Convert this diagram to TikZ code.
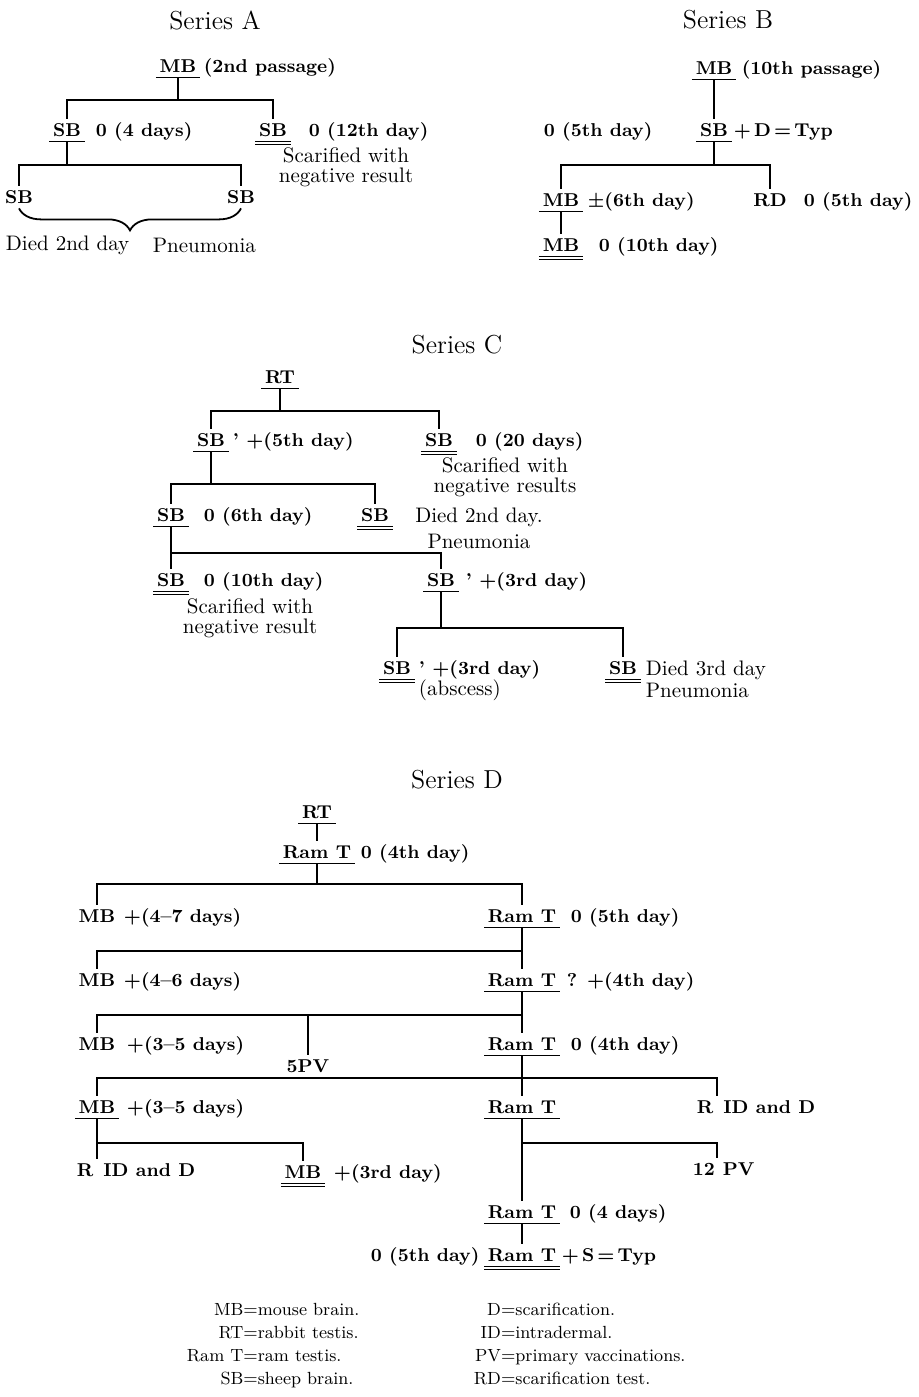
\documentclass[tikz,border=0pt]{standalone}
\usetikzlibrary{decorations.pathreplacing}
\tikzset{
  lbl/.style={font=\fontsize{9.3}{11}\selectfont\bfseries\boldmath, inner xsep=1.5pt, inner ysep=2pt, text height=6.5pt, text depth=0pt},
  txt/.style={lbl, anchor=west},
  note/.style={font=\fontsize{10.5}{10}\selectfont, inner sep=1.5pt, align=center},
  ul/.style={append after command={(\tikzlastnode.south west) edge[line width=0.7pt] (\tikzlastnode.south east)}},
  dul/.style={append after command={(\tikzlastnode.south west) edge[line width=0.7pt] (\tikzlastnode.south east)
      ([yshift=-1.6pt]\tikzlastnode.south west) edge[line width=0.7pt] ([yshift=-1.6pt]\tikzlastnode.south east)}},
  series/.style={font=\fontsize{13}{15}\selectfont},
  legend/.style={font=\fontsize{8.8}{11.5}\selectfont, inner sep=0pt, anchor=west}
}
\begin{document}
\begin{tikzpicture}[x=0.5pt,y=-0.5pt,line width=0.9pt]
\useasboundingbox (0,0) rectangle (918,1397);
\node[series] (serA) at (215,20) {Series A};
\node[lbl, ul] (mbA) at (178,66) {MB};
\node[txt] (mbAc) at (200,66) {(2nd passage)};
\coordinate (jA1) at (178,100);
\node[lbl, ul] (sbA1) at (67,130) {SB};
\node[txt] (sbA1c) at (92,130) {0 (4 days)};
\node[lbl, dul] (sbA2) at (273,130) {SB};
\node[txt] (sbA2c) at (305,130) {0 (12th day)};
\node[note] (sbA2n) at (346,167) {Scarified with\\negative result};
\coordinate (jA2) at (67,165);
\node[lbl] (sbA3) at (19,197) {SB};
\node[lbl] (sbA4) at (241,197) {SB};
\node[note, anchor=west] (deadA) at (2,245) {Died 2nd day};
\node[note, anchor=west] (pneuA) at (149,245) {Pneumonia};
\draw (mbA.south) -- (jA1);
\draw (sbA1.north) |- (jA1) -| (sbA2.north);
\draw (sbA1.south) -- (jA2);
\draw (sbA3.north) |- (jA2) -| (sbA4.north);
\draw[decorate, decoration={brace, mirror, amplitude=11pt}] (sbA3.south) -- (sbA4.south);

\node[series] (serB) at (728,20) {Series B};
\node[lbl, ul] (mbB1) at (714,68) {MB};
\node[txt] (mbB1c) at (738,68) {(10th passage)};
\node[lbl, ul] (sbB) at (714,130) {SB};
\node[txt] (sbBc) at (730,130) {+\,D\,=\,Typ};
\node[txt] (sbBl) at (540,130) {0 (5th day)};
\coordinate (jB) at (714,165);
\node[lbl, ul] (mbB2) at (561,200) {MB};
\node[txt] (mbB2c) at (584,200) {$\pm$(6th day)};
\node[lbl] (rdB) at (770,200) {RD};
\node[txt] (rdBc) at (800,200) {0 (5th day)};
\node[lbl, dul] (mbB3) at (561,245) {MB};
\node[txt] (mbB3c) at (595,245) {0 (10th day)};
\draw (mbB1.south) -- (sbB.north);
\draw (sbB.south) -- (jB);
\draw (mbB2.north) |- (jB) -| (rdB.north);
\draw (mbB2.south) -- (mbB3.north);

\node[series] (serC) at (457,345) {Series C};
\node[lbl, ul] (rtC) at (280,377) {RT};
\coordinate (jC1) at (280,411);
\node[lbl, ul] (sbC1) at (211,440) {SB};
\node[txt] (sbC1c) at (229,440) {' +(5th day)};
\node[lbl, dul] (sbC2) at (439,440) {SB};
\node[txt] (sbC2c) at (472,440) {0 (20 days)};
\node[note] (sbC2n) at (505,477) {Scarified with\\negative results};
\coordinate (jC2) at (211,484);
\node[lbl, ul] (sbC3) at (171,515) {SB};
\node[txt] (sbC3c) at (200,515) {0 (6th day)};
\node[lbl, dul] (sbC4) at (375,515) {SB};
\node[note, font=\fontsize{10.5}{13}\selectfont] (sbC4n) at (479,528) {Died 2nd day.\\Pneumonia};
\coordinate (jC3) at (171,553);
\node[lbl, dul] (sbC5) at (171,580) {SB};
\node[txt] (sbC5c) at (200,580) {0 (10th day)};
\node[note] (sbC5n) at (250,618) {Scarified with\\negative result};
\node[lbl, ul] (sbC6) at (441,580) {SB};
\node[txt] (sbC6c) at (462,580) {' +(3rd day)};
\coordinate (jC4) at (441,628);
\node[lbl, dul] (sbC7) at (397,668) {SB};
\node[txt] (sbC7c) at (415,668) {' +(3rd day)};
\node[note, anchor=west] (sbC7n) at (415,690) {(abscess)};
\node[lbl, dul] (sbC8) at (623,668) {SB};
\node[note, anchor=west, align=left, font=\fontsize{10.5}{11}\selectfont] (sbC8n) at (642,679) {Died 3rd day\\Pneumonia};
\draw (rtC.south) -- (jC1);
\draw (sbC1.north) |- (jC1) -| (sbC2.north);
\draw (sbC1.south) -- (jC2);
\draw (sbC3.north) |- (jC2) -| (sbC4.north);
\draw (sbC3.south) -- (sbC5.north);
\draw (jC3) -| (sbC6.north);
\draw (sbC6.south) -- (jC4);
\draw (sbC7.north) |- (jC4) -| (sbC8.north);

\node[series] (serD) at (457,780) {Series D};
\node[lbl, ul] (rtD) at (317,812) {RT};
\node[lbl, ul] (ramD1) at (317,852) {Ram T};
\node[txt] (ramD1c) at (357,852) {0 (4th day)};
\coordinate (jD1) at (317,884);
\node[lbl] (mbD1) at (97,916) {MB};
\node[txt] (mbD1c) at (120,916) {+(4--7 days)};
\node[lbl, ul] (ramD2) at (522,916) {Ram T};
\node[txt] (ramD2c) at (567,916) {0 (5th day)};
\coordinate (jD2) at (522,951);
\node[lbl] (mbD2) at (97,980) {MB};
\node[txt] (mbD2c) at (120,980) {+(4--6 days)};
\node[lbl, ul] (ramD3) at (522,980) {Ram T};
\node[txt] (ramD3c) at (563,980) {? +(4th day)};
\coordinate (jD3) at (522,1015);
\node[lbl] (mbD3) at (97,1044) {MB};
\node[txt] (mbD3c) at (123,1044) {+(3--5 days)};
\node[lbl] (pv5) at (308,1066) {5PV};
\node[lbl, ul] (ramD4) at (522,1044) {Ram T};
\node[txt] (ramD4c) at (567,1044) {0 (4th day)};
\coordinate (jD4) at (522,1078);
\coordinate (cD4) at (717,1078);
\node[lbl, ul] (mbD4) at (97,1107) {MB};
\node[txt] (mbD4c) at (123,1107) {+(3--5 days)};
\node[lbl, ul] (ramD5) at (522,1107) {Ram T};
\node[txt] (ridD2) at (693,1107) {R\hspace{5pt}ID and D};
\coordinate (jD5) at (97,1143);
\coordinate (jD6) at (522,1143);
\coordinate (cD6) at (717,1143);
\node[txt] (ridD1) at (73,1170) {R\hspace{5pt}ID and D};
\node[lbl, dul] (mbD5) at (303,1172) {MB};
\node[txt] (mbD5c) at (330,1172) {+(3rd day)};
\node[txt] (pv12) at (689,1169) {12\hspace{4pt}PV};
\node[lbl, ul] (ramD6) at (522,1212) {Ram T};
\node[txt] (ramD6c) at (566,1212) {0 (4 days)};
\node[lbl, dul] (ramD7) at (522,1255) {Ram T};
\node[txt] (ramD7c) at (558,1255) {+\,S\,=\,Typ};
\node[txt] (ramD7l) at (367,1255) {0 (5th day)};
\draw (rtD.south) -- (ramD1.north);
\draw (ramD1.south) -- (jD1);
\draw (mbD1.north) |- (jD1) -| (ramD2.north);
\draw (ramD2.south) -- (ramD3.north);
\draw (mbD2.north) |- (jD2);
\draw (ramD3.south) -- (ramD4.north);
\draw (mbD3.north) |- (jD3);
\draw (pv5.north) -- (pv5.north |- jD3);
\draw (ramD4.south) -- (ramD5.north);
\draw (mbD4.north) |- (jD4) -- (cD4) -- (cD4 |- ridD2.north);
\draw (ramD5.south) -- (ramD6.north);
\draw (jD6) -- (cD6) -- (cD6 |- pv12.north);
\draw (mbD4.south) -- (jD5) -| (mbD5.north);
\draw (jD5) -- (jD5 |- ridD1.north);
\draw (ramD6.south) -- (ramD7.north);

\node[legend] (legL) at (186,1345) {\begin{tabular}{@{}r@{}l@{}}MB&$=$mouse brain.\\RT&$=$rabbit testis.\\Ram T&$=$ram testis.\\SB&$=$sheep brain.\end{tabular}};
\node[legend] (legR) at (473,1345) {\begin{tabular}{@{}r@{}l@{}}D&$=$scarification.\\ID&$=$intradermal.\\PV&$=$primary vaccinations.\\RD&$=$scarification test.\end{tabular}};
\end{tikzpicture}
\end{document}
